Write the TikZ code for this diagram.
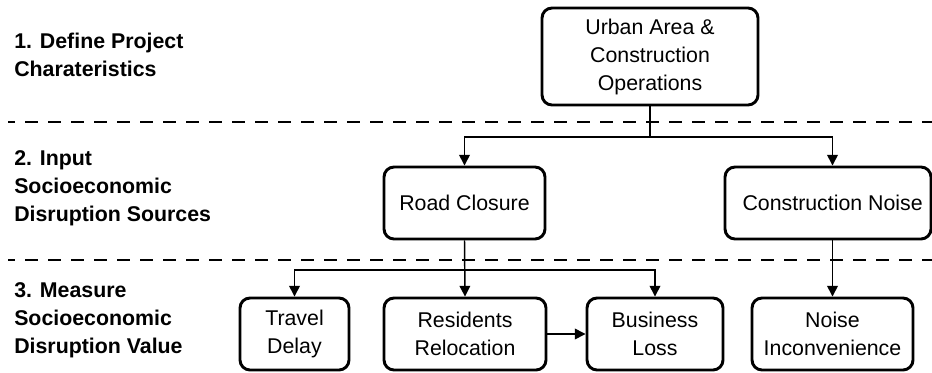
\documentclass[tikz,border=0pt]{standalone}
\usepackage{fontspec}
\setmainfont{Liberation Sans}
\usetikzlibrary{arrows.meta}
\begin{document}
\begin{tikzpicture}[x=0.75pt,y=-0.75pt,
  box/.style={draw=black, line width=2.2pt, rounded corners=7.5pt, inner sep=0pt, align=center,
    font=\fontsize{16}{21}\selectfont},
  lbl/.style={anchor=west, inner sep=0pt, align=left, font=\fontsize{16}{21}\selectfont\bfseries},
  arr/.style={line width=1.1pt, -{Triangle[length=8pt,width=8pt]}},
  conn/.style={line width=1.1pt},
  sep/.style={line width=2.2pt, dash pattern=on 9.75pt off 7.5pt, dash phase=4.5pt}]
\useasboundingbox (0,0) rectangle (932,372);
% separators
\coordinate (s1a) at (8,122); \coordinate (s1b) at (932,122);
\coordinate (s2a) at (8,260); \coordinate (s2b) at (932,260);
\draw[sep] (s1a) -- (s1b);
\draw[sep] (s2a) -- (s2b);
% labels
\node[lbl] (l1) at (14,55) {1. Define Project\\Charateristics};
\node[lbl] (l2) at (14,188) {2. Input\\Socioeconomic\\Disruption Sources};
\node[lbl] (l3) at (14,320) {3. Measure\\Socioeconomic\\Disruption Value};
% boxes
\node[box, minimum width=162pt, minimum height=72.75pt, fill=white] (urb) at (650,56.5) {Urban Area \&\\Construction\\Operations};
\node[box, minimum width=120.75pt, minimum height=54pt, fill=white] (rc) at (464.5,203) {Road Closure};
\node[box, minimum width=154.5pt, minimum height=54pt, fill=white] (cn) at (828,203) {\hspace*{7pt}Construction Noise};
\node[box, minimum width=81.75pt, minimum height=54pt, fill=white] (td) at (294.5,334) {Travel\\Delay};
\node[box, minimum width=121.5pt, minimum height=54pt, fill=white] (rr) at (465,334) {Residents\\Relocation};
\node[box, minimum width=102pt, minimum height=54pt, fill=white] (bl) at (655,334) {Business\\Loss};
\node[box, minimum width=120.75pt, minimum height=54pt, fill=white] (ni) at (832.5,334) {Noise\\Inconvenience};
% connectors
\coordinate (j1) at (650,137);
\coordinate (j2) at (465,270);
\draw[conn] (urb.south) -- (j1);
\draw[arr] (j1) -| (rc.north);
\draw[arr] (j1) -| (ni.north |- cn.north);
\draw[arr] (rc.south) -- (rr.north);
\draw[arr] (j2) -| (td.north);
\draw[arr] (j2) -| (bl.north);
\draw[arr] (ni.north |- cn.south) -- (ni.north);
\draw[arr] (rr.east) -- (bl.west);
\end{tikzpicture}
\end{document}
